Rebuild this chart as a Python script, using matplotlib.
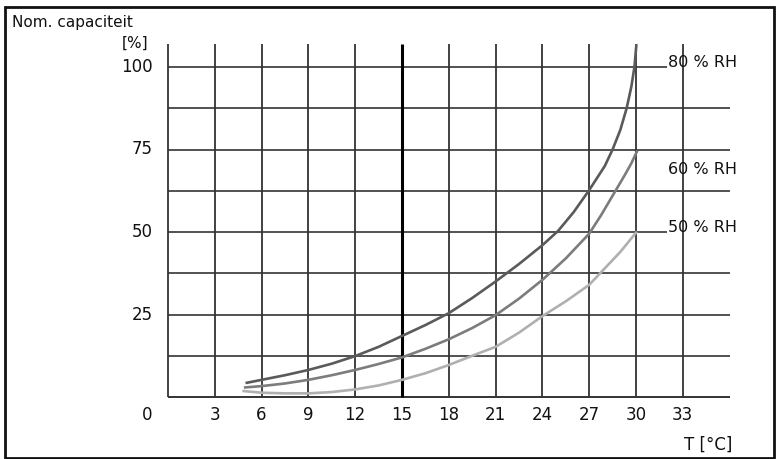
import numpy as np
import matplotlib
matplotlib.use('Agg')
from matplotlib import pyplot as plt
from matplotlib.patches import Rectangle

plt.rcParams['font.family'] = ['DejaVu Sans']

# axis values
x_ticks = [3, 6, 9, 12, 15, 18, 21, 24, 27, 30, 33]
y_ticks = [25, 50, 75, 100]
h_grid = [12.5, 25, 37.5, 50, 62.5, 75, 87.5, 100]
v_grid = [0, 3, 6, 9, 12, 15, 18, 21, 24, 27, 30, 33]

# curves (T in degC, capacity in %)
t80 = [5.05, 6, 7.5, 9, 10.5, 12, 13.5, 15, 16.5, 18, 19.5, 21, 22.5, 24, 25, 26, 27, 28, 28.5, 29, 29.4, 29.7, 29.9, 30.02]
c80 = [4.3, 5.2, 6.6, 8.2, 10.1, 12.4, 15.2, 18.5, 21.8, 25.4, 30.0, 35.0, 40.3, 46.0, 50.3, 56.0, 62.7, 70.0, 75.0, 81.0, 87.5, 94.0, 100.0, 106.5]

t60 = [4.95, 6, 7.5, 9, 10.5, 12, 13.5, 15, 16.5, 18, 19.5, 21, 22.5, 24, 25.5, 27, 27.75, 28.5, 29.25, 29.7, 30.05]
c60 = [2.9, 3.3, 4.1, 5.2, 6.6, 8.2, 10.0, 12.0, 14.6, 17.5, 20.9, 24.8, 29.8, 35.5, 42.0, 49.5, 55.0, 61.0, 67.0, 70.8, 74.3]

t50 = [4.85, 6, 7.5, 9, 10.5, 12, 13.5, 15, 16.5, 18, 19.5, 21, 22.5, 24, 25.5, 27, 28, 29, 30]
c50 = [1.8, 1.3, 1.1, 1.1, 1.5, 2.3, 3.5, 5.2, 7.2, 9.7, 12.5, 15.2, 19.5, 24.5, 29.0, 34.0, 39.0, 44.0, 49.8]

labels = ['80 % RH', '60 % RH', '50 % RH']
label_y = [100, 67.6, 50]

fig = plt.figure(figsize=(7.76, 4.59), dpi=100)
ax = fig.add_axes([0, 0, 1, 1])
# 0 degC at 168 px, 15.6 px per degC; 0 % at 397 px, 3.3 px per %
ax.set_xlim(-168 / 15.6, (776 - 168) / 15.6)
ax.set_ylim(-(459 - 397) / 3.3, 397 / 3.3)
ax.axis('off')

for y in h_grid:
    x_end = 31.97 if y in (50, 100) else 36
    ax.plot([0, x_end], [y, y], color='#333333', lw=1.2, zorder=1, solid_capstyle='butt')
ax.plot([0, 36], [0, 0], color='#333333', lw=1.4, zorder=1, solid_capstyle='butt')

for x in v_grid:
    if x == 15:
        ax.plot([x, x], [0, 107.1], color='black', lw=2.2, zorder=1, solid_capstyle='butt')
    else:
        ax.plot([x, x], [0, 107.1], color='#333333', lw=1.3, zorder=1, solid_capstyle='butt')

ax.plot(t80, c80, color='#5a5a5a', lw=1.9, zorder=3)
ax.plot(t60, c60, color='#7c7c7c', lw=1.9, zorder=3)
ax.plot(t50, c50, color='#b0b0b0', lw=1.9, zorder=3)

fs = 12
for lab, y in zip(labels, label_y):
    ax.text(32.05, y, lab, fontsize=11.5, ha='left', va='baseline', color='#111111', zorder=4)

for x in x_ticks:
    ax.text(x, -5.45, str(x), fontsize=fs, ha='center', va='center', color='#111111')
for y in y_ticks:
    ax.text(-1.0, y, str(y), fontsize=fs, ha='right', va='center', color='#111111')
ax.text(-1.0, -5.45, '0', fontsize=fs, ha='right', va='center', color='#111111')

ax.text(-1.25, 107.3, '[%]', fontsize=11, ha='right', va='center', color='#111111')
ax.text(-10.0, 113.6, 'Nom. capaciteit', fontsize=11, ha='left', va='center', color='#111111')
ax.text(36.15, -14.5, 'T [°C]', fontsize=fs, ha='right', va='center', color='#111111')

# frame around the whole picture
fig.add_artist(Rectangle((5 / 776, 1.5 / 459), 769 / 776, 450.5 / 459,
                         transform=fig.transFigure, fill=False, lw=2, edgecolor='#111111'))

fig.savefig('out.png', dpi=100)
